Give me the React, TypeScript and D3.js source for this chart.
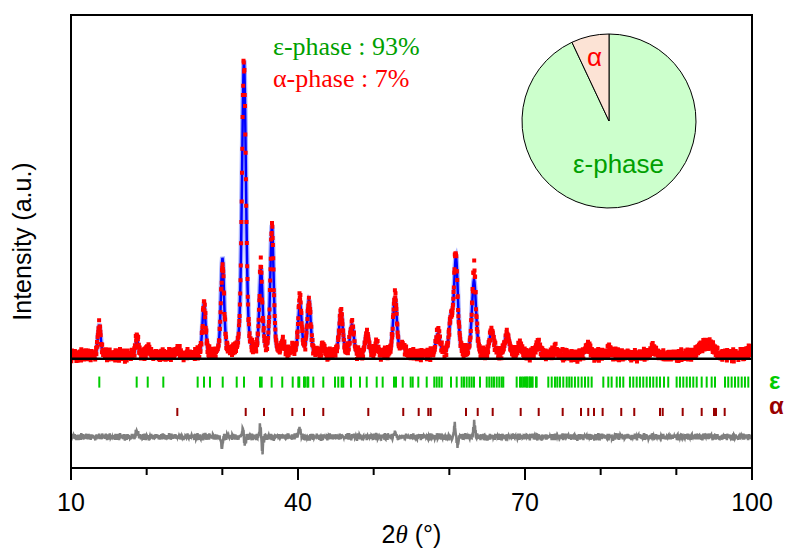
import React from 'react';
import * as d3 from 'd3';

const width = 789;
const height = 550;
const frame = { left: 71, right: 752, top: 15, bottom: 468 };

// reflections: [2theta, height, fwhm]  (height 100 = strongest)
const peaks: [number, number, number][] = [
  [13.74, 10, 0.45], [18.72, 5, 0.45], [20.18, 3, 0.45], [24.14, 2.5, 0.45],
  [27.58, 17, 0.5], [30.02, 32, 0.5], [32.86, 98, 0.62], [35.11, 28, 0.5],
  [36.56, 43, 0.52], [38.02, 4, 0.5], [39.2, 2, 0.5], [40.26, 17, 0.55],
  [41.45, 18, 0.55], [43.3, 3, 0.5], [45.68, 14, 0.6], [47.13, 10, 0.6],
  [49.12, 7, 0.6], [50.4, 3, 0.6], [52.82, 19, 0.6], [53.87, 3, 0.6],
  [58.5, 7, 0.7], [60.22, 11, 0.6], [60.88, 32, 0.6], [63.26, 25, 0.65],
  [65.6, 8, 0.7], [67.62, 7, 0.7], [69.34, 3, 0.7], [71.72, 4, 0.8],
  [74.0, 2, 0.8], [78.3, 3, 0.8], [81.2, 2, 0.8], [86.9, 2, 0.9],
  [93.4, 3, 1.4], [94.6, 3, 1.2], [99.7, 2, 0.9]
];
const background = 1.0;

// local misfit seen in the difference curve: [2theta, amplitude, width]
const misfit: [number, number, number][] = [
  [18.7, 2.0, 0.2], [29.95, -3.5, 0.15], [32.7, 2.5, 0.12], [33.0, -2.5, 0.12],
  [35.0, 3.5, 0.12], [35.3, -5.0, 0.12], [40.2, 2.5, 0.2], [52.8, 1.2, 0.2],
  [60.7, 4.0, 0.12], [61.1, -3.0, 0.12], [63.3, 4.5, 0.15]
];

// counting scatter, typed by hand
const scatterA = [0.42, -0.71, 0.15, 0.88, -0.33, -0.95, 0.61, 0.07, -0.52, 0.79, -0.18, 0.36, -0.84, 0.93, -0.06, -0.47,
  0.71, 0.24, -0.66, 0.51, -0.29, 0.98, -0.77, 0.12, 0.39, -0.58, 0.83, -0.11, -0.92, 0.27, 0.64, -0.41, 0.05, -0.73,
  0.86, -0.24, 0.47, -0.89, 0.19, 0.69, -0.37, -0.08, 0.91, -0.62, 0.33, -0.15, 0.56];
const scatterB = [-0.25, 0.63, -0.87, 0.11, 0.48, -0.39, 0.95, -0.64, 0.02, 0.77, -0.51, -0.13, 0.84, -0.96, 0.35, 0.22,
  -0.69, 0.58, -0.04, -0.81, 0.67, 0.29, -0.46, 0.91, -0.19, -0.72, 0.44, 0.08, -0.58, 0.99, -0.31, 0.16, -0.85, 0.53,
  -0.09, 0.74, -0.44, -0.97, 0.38, 0.61, -0.27, 0.87, -0.67, 0.14, -0.35, 0.79, -0.55, 0.26, -0.12, 0.93, -0.78, 0.41,
  0.03, -0.63, 0.72, -0.21, 0.49, -0.9, 0.18];

const epsTicks = [13.74, 18.68, 20.14, 22.2, 26.74, 27.58, 28.37, 30.05, 31.9, 32.86, 34.98, 35.2, 36.52, 37.92, 39.3,
  40.04, 40.17, 40.79, 40.92, 41.23, 41.36, 42.02, 43.34, 44.89, 45.32, 45.77, 45.98, 47.0, 48.19, 49.08, 50.4, 51.19,
  52.69, 52.95, 53.84, 54.89, 55.16, 55.9, 57.01, 58.01, 58.33, 58.67, 58.99, 60.22, 60.97, 61.63, 61.94, 62.29, 62.64,
  62.95, 63.26, 64.05, 64.94, 65.28, 65.6, 65.9, 66.26, 66.6, 66.92, 67.13, 68.9, 69.34, 69.56, 69.77, 70.0, 70.22,
  70.3, 70.57, 70.66, 70.88, 71.01, 71.45, 71.54, 73.08, 73.53, 73.96, 74.27, 74.62, 75.06, 75.51, 75.85, 76.17, 76.6,
  77.04, 77.49, 77.93, 78.36, 78.81, 80.35, 81.01, 81.45, 82.12, 82.55, 82.99, 83.87, 84.31, 84.76, 85.19, 85.63,
  86.08, 86.52, 86.95, 87.4, 87.84, 88.37, 88.93, 90.04, 90.48, 90.92, 91.37, 91.8, 92.24, 92.69, 93.35, 94.01,
  94.67, 95.11, 96.43, 96.86, 97.31, 97.75, 98.19, 98.64, 99.07, 99.51];
const alphaTicks = [24.05, 33.09, 35.51, 39.25, 40.79, 43.34, 49.29, 53.91, 55.95, 57.22, 57.53, 62.2, 63.75, 65.73,
  69.43, 71.81, 74.98, 77.4, 78.36, 79.12, 80.26, 82.72, 84.44, 87.84, 88.2, 90.84, 93.35, 94.98, 95.24, 96.39];

const phaseNames = ['ε-phase', 'α-phase'];
const phaseShort = ['ε-phase', 'α'];
const phasePct = [93, 7];
const phaseTickLabels = ['ε', 'α'];

const majorTicks = [10, 40, 70, 100];
const minorTicks = [20, 30, 50, 60, 80, 90];

const textColor = ['#00a000', '#ff0000'];
const pieFill = ['#ccffcc', '#fce3d5'];
const pieText = ['#00a000', '#ff0000'];
const tickColor = ['#00cc00', '#990000'];

function pv(t: number, c: number, h: number, w: number) {
  const u = (t - c) / w;
  return h * (0.35 / (1 + 4 * u * u) + 0.65 * Math.exp(-4 * Math.LN2 * u * u));
}

function bump(t: number, c: number, a: number, w: number) {
  const q = (t - c) / w;
  return a * Math.exp(-q * q);
}

export default function App() {
  const x = d3.scaleLinear().domain([10, 100]).range([frame.left, frame.right]);
  const y = d3.scaleLinear().domain([-36.6, 115]).range([frame.bottom, frame.top]);

  const step = 0.04;
  const n = Math.round(90 / step);
  const pts = d3.range(n + 1).map(i => {
    const t = 10 + i * step;
    const calc = background + d3.sum(peaks, p => pv(t, p[0], p[1], p[2]));
    const mis = d3.sum(misfit, m => bump(t, m[0], m[1], m[2]));
    const s = 0.6 * scatterA[i % scatterA.length] + 0.6 * scatterB[(i * 13) % scatterB.length];
    const noise = s * (1.9 + 0.008 * calc);
    return { t, calc, obs: calc + mis + noise, diff: -26.2 + mis + noise * 0.6 };
  });

  const calcLine = d3.line<any>().x(d => x(d.t)).y(d => y(d.calc))(pts) || '';
  const diffLine = d3.line<any>().x(d => x(d.t)).y(d => y(d.diff))(pts) || '';
  let obsPath = '';
  pts.forEach(d => {
    obsPath += `M${(x(d.t) - 2).toFixed(1)},${(y(d.obs) - 2).toFixed(1)}h4v4h-4z`;
  });

  const pie = d3.pie<number>().sort(null)(phasePct);
  const R = 87;
  const arc = d3.arc<any>().innerRadius(0).outerRadius(R);
  const labelR = [0.5 * R, 0.76 * R];
  const cx = 609, cy = 121;

  const sans = "'Liberation Sans', Arial, sans-serif";
  const serif = "'Liberation Serif', 'Times New Roman', serif";

  return (
    <svg width={width} height={height} style={{ position: 'absolute', left: 0, top: 0 }}>
      <defs>
        <clipPath id="plotArea">
          <rect x={frame.left} y={frame.top} width={frame.right - frame.left} height={frame.bottom - frame.top} />
        </clipPath>
      </defs>
      <g clipPath="url(#plotArea)">
        <path d={calcLine} fill="none" stroke="#aab4ff" strokeWidth={5} />
        <path d={calcLine} fill="none" stroke="#0000ff" strokeWidth={2.5} />
        <path d={obsPath} fill="#ff0000" />
        <line x1={frame.left} x2={frame.right} y1={y(0)} y2={y(0)} stroke="#000" strokeWidth={2.5} />
        <path d={diffLine} fill="none" stroke="#7f7f7f" strokeWidth={2.5} />
        {epsTicks.map((t, i) => (
          <line key={'e' + i} x1={x(t)} x2={x(t)} y1={y(-6)} y2={y(-9.7)} stroke={tickColor[0]} strokeWidth={2} />
        ))}
        {alphaTicks.map((t, i) => (
          <line key={'a' + i} x1={x(t)} x2={x(t)} y1={y(-16.5)} y2={y(-19.2)} stroke={tickColor[1]} strokeWidth={2} />
        ))}
      </g>
      <rect x={frame.left} y={frame.top} width={frame.right - frame.left} height={frame.bottom - frame.top}
        fill="none" stroke="#000" strokeWidth={2} />
      {majorTicks.map(t => (
        <g key={'M' + t}>
          <line x1={x(t)} x2={x(t)} y1={frame.bottom} y2={frame.bottom + 12} stroke="#000" strokeWidth={2} />
          <text x={x(t)} y={511} textAnchor="middle" fontFamily={sans} fontSize={25}>{t}</text>
        </g>
      ))}
      {minorTicks.map(t => (
        <line key={'m' + t} x1={x(t)} x2={x(t)} y1={frame.bottom} y2={frame.bottom + 7} stroke="#000" strokeWidth={2} />
      ))}
      <text x={(frame.left + frame.right) / 2} y={543} textAnchor="middle" fontFamily={sans} fontSize={25}>
        2<tspan fontFamily={serif} fontStyle="italic">θ</tspan> (°)
      </text>
      <text transform={`translate(31,${(frame.top + frame.bottom) / 2}) rotate(-90)`} textAnchor="middle"
        fontFamily={sans} fontSize={25}>Intensity (a.u.)</text>

      {phaseTickLabels.map((s, i) => (
        <text key={s} x={769} y={i === 0 ? 389 : 414} fontFamily={sans} fontWeight="bold" fontSize={24}
          fill={tickColor[i]}>{s}</text>
      ))}

      {phaseNames.map((s, i) => (
        <text key={s} x={273} y={55 + i * 32} fontFamily={serif} fontSize={26} fill={textColor[i]}>
          {`${s} : ${phasePct[i]}%`}
        </text>
      ))}

      <g transform={`translate(${cx},${cy})`}>
        {pie.map((p, i) => (
          <path key={i} d={arc(p) || ''} fill={pieFill[i]} stroke="#000" strokeWidth={1} />
        ))}
        {pie.map((p, i) => {
          const c = d3.arc<any>().innerRadius(labelR[i]).outerRadius(labelR[i]).centroid(p);
          return (
            <text key={'l' + i} x={c[0]} y={c[1]} dy="0.35em" textAnchor="middle" fontFamily={sans}
              fontSize={26} fill={pieText[i]}>{phaseShort[i]}</text>
          );
        })}
      </g>
    </svg>
  );
}
